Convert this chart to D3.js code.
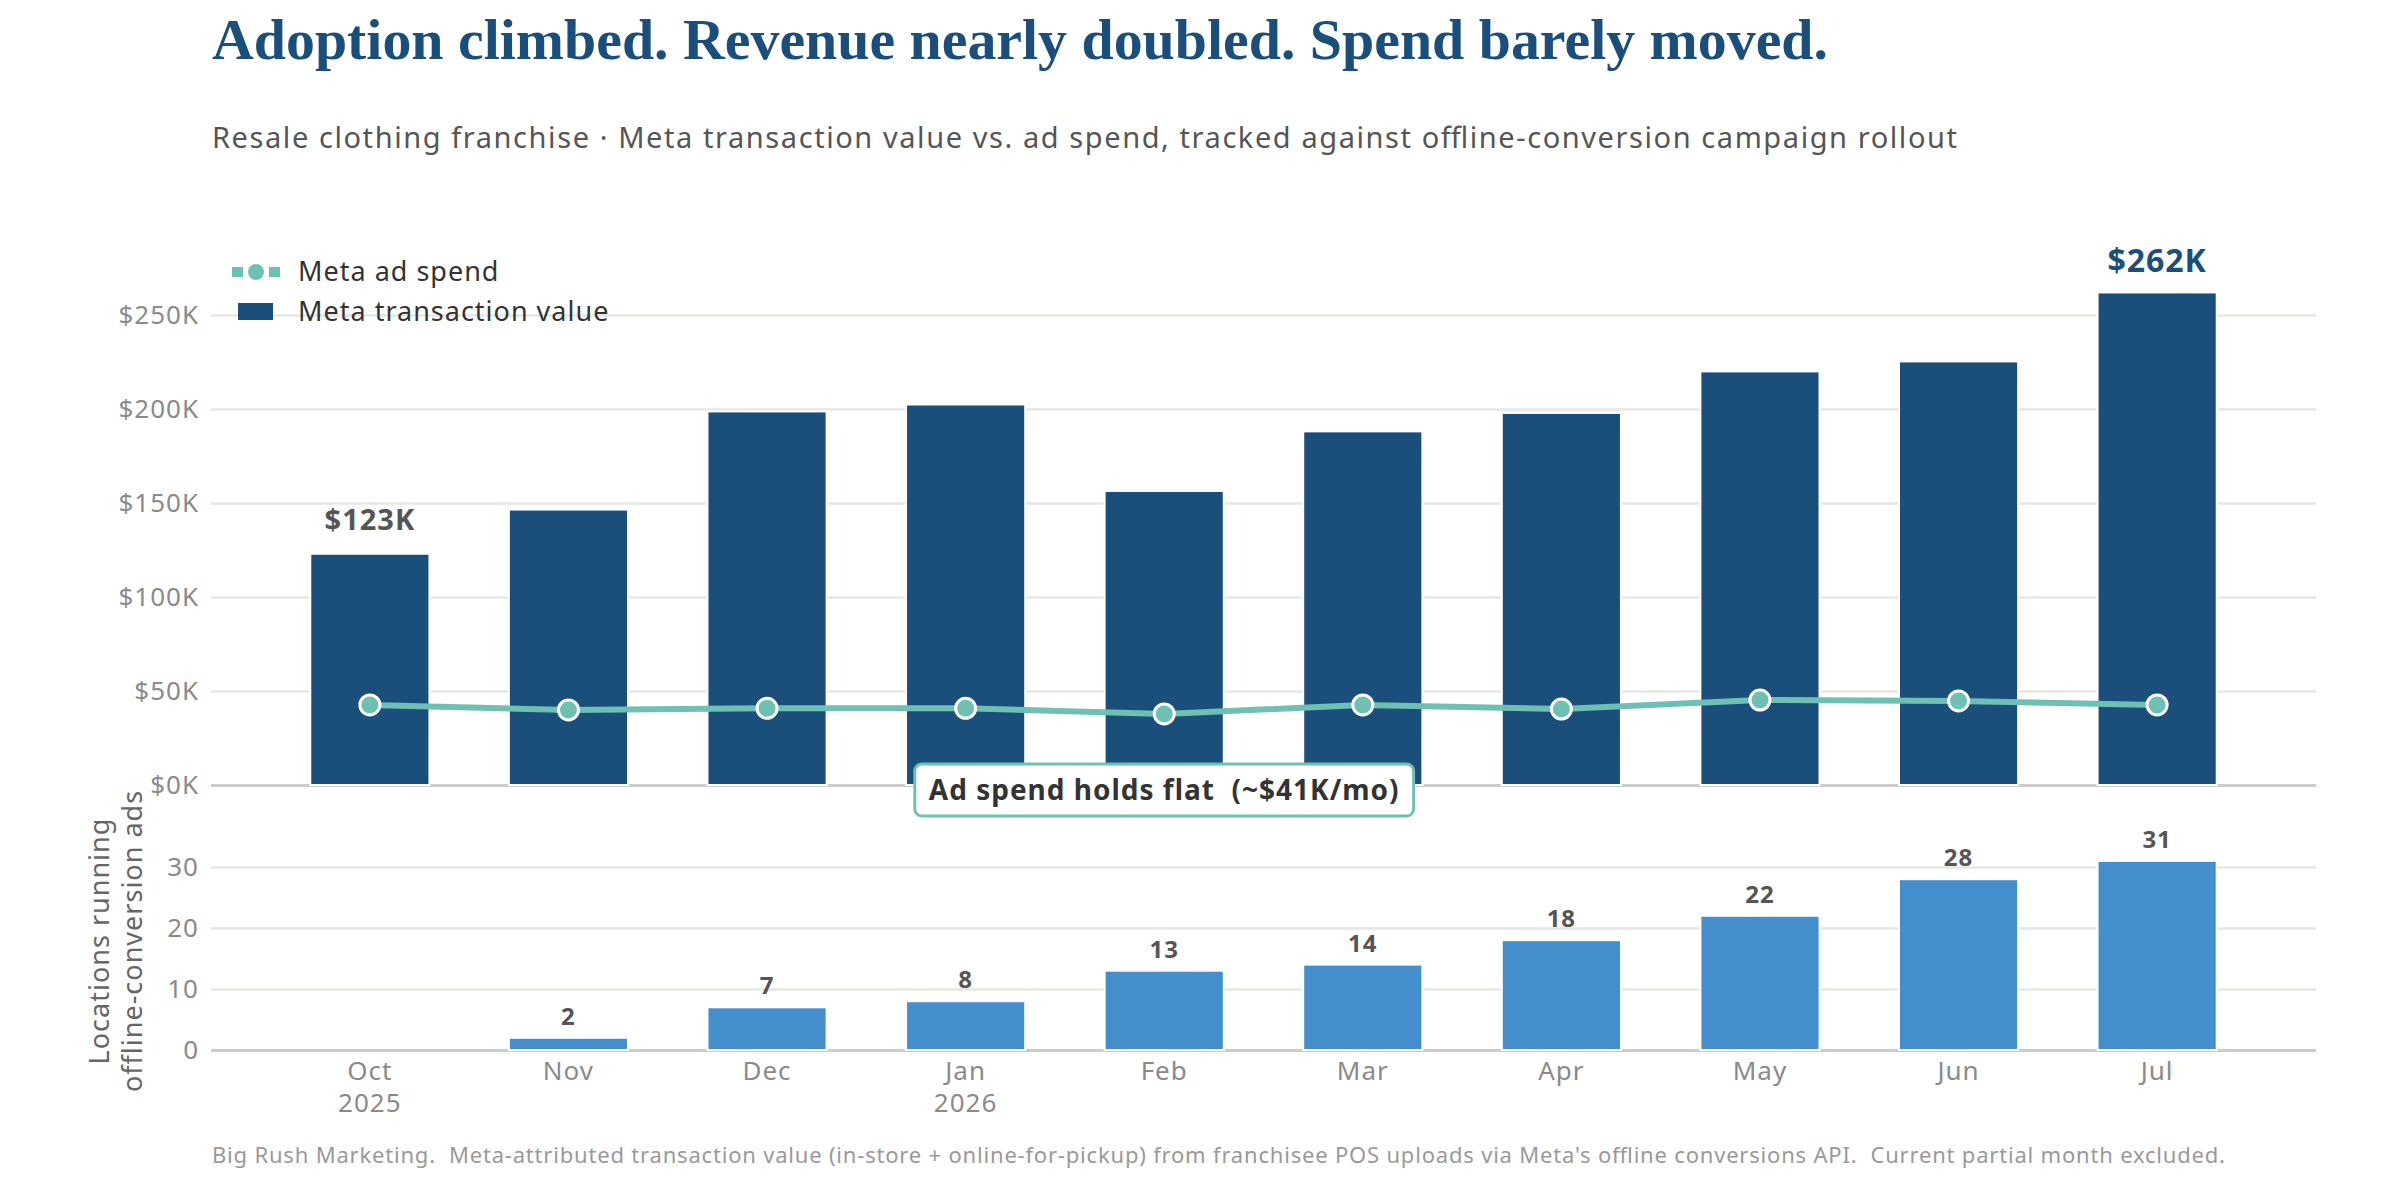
<!DOCTYPE html>
<html>
<head>
<meta charset="utf-8">
<script src="https://cdn.jsdelivr.net/npm/d3@7"></script>
<style>
  body { margin: 0; background: #fff; }
  text { font-family: "Noto Sans", sans-serif; letter-spacing: 1px; }
</style>
</head>
<body>
<div id="chart"></div>
<script>
// Chart data (values in $K where noted)
var months = ["Oct", "Nov", "Dec", "Jan", "Feb", "Mar", "Apr", "May", "Jun", "Jul"];
var years = ["2025", "", "", "2026", "", "", "", "", "", ""];
var transactionValue = [123, 146.5, 198.7, 202.4, 156.4, 188.1, 197.9, 220, 225.3, 262]; // $K
var adSpend = [42.6, 39.9, 40.8, 40.8, 37.8, 42.6, 40.4, 45.2, 44.7, 42.6]; // $K
var locations = [0, 2, 7, 8, 13, 14, 18, 22, 28, 31];
var valueTicks = [0, 50, 100, 150, 200, 250];
var locationTicks = [0, 10, 20, 30];
var labelledValues = { "Oct": "$123K", "Jul": "$262K" };

var navy = "#1b4f7b", teal = "#6ec0b2", lightBlue = "#448ecc";

var W = 2400, H = 1180;
var left = 211, right = 2316;

var svg = d3.select("#chart")
    .append("svg")
    .attr("width", W)
    .attr("height", H);

// Title + subtitle
svg.append("text")
    .attr("x", 212)
    .attr("y", 59)
    .attr("textLength", 1616)
    .attr("lengthAdjust", "spacingAndGlyphs")
    .style("font-family", "'Liberation Serif', serif")
    .style("font-weight", "bold")
    .style("font-size", "56px")
    .style("letter-spacing", "0px")
    .attr("fill", navy)
    .text("Adoption climbed. Revenue nearly doubled. Spend barely moved.");

svg.append("text")
    .attr("x", 212)
    .attr("y", 148)
    .attr("textLength", 1745)
    .attr("lengthAdjust", "spacing")
    .style("font-size", "29px")
    .style("letter-spacing", "0px")
    .attr("fill", "#555")
    .text("Resale clothing franchise \u00b7 Meta transaction value vs. ad spend, tracked against offline-conversion campaign rollout");

// Scales
var x = d3.scaleBand()
    .domain(months)
    .range([left, right])
    .paddingInner(0.4)
    .paddingOuter(0.5);

var yTop = d3.scaleLinear().domain([0, 250]).range([785, 315]);
var yBot = d3.scaleLinear().domain([0, 30]).range([1050, 867]);

function styleAxis(g) {
    g.select(".domain").remove();
    g.selectAll(".tick line")
        .attr("stroke", function(d) { return d === 0 ? "#cccccc" : "#e6e6e2"; })
        .attr("stroke-width", function(d) { return d === 0 ? 3 : 2.5; });
    g.selectAll(".tick text")
        .attr("fill", "#8a8a8a")
        .style("font-size", "26px")
        .style("font-family", "'Noto Sans', sans-serif");
}

// Upper panel gridlines / y axis
svg.append("g")
    .attr("transform", "translate(" + left + ",0)")
    .call(d3.axisLeft(yTop)
        .tickValues(valueTicks)
        .tickSize(-(right - left))
        .tickPadding(12)
        .tickFormat(function(d) { return "$" + d + "K"; }))
    .call(styleAxis);

// Lower panel gridlines / y axis
svg.append("g")
    .attr("transform", "translate(" + left + ",0)")
    .call(d3.axisLeft(yBot)
        .tickValues(locationTicks)
        .tickSize(-(right - left))
        .tickPadding(12))
    .call(styleAxis);

// Transaction value bars
svg.selectAll(".valueBar")
    .data(transactionValue)
    .enter()
    .append("rect")
    .attr("class", "valueBar")
    .attr("x", function(d, i) { return x(months[i]); })
    .attr("width", x.bandwidth())
    .attr("y", function(d) { return yTop(d); })
    .attr("height", function(d) { return yTop(0) - yTop(d); })
    .attr("fill", navy)
    .attr("stroke", "#fff")
    .attr("stroke-width", 2);

// Labels on first and last bars
svg.selectAll(".valueLabel")
    .data(months.filter(function(m) { return labelledValues[m]; }))
    .enter()
    .append("text")
    .attr("class", "valueLabel")
    .attr("x", function(m) { return x(m) + x.bandwidth() / 2; })
    .attr("y", function(m) { return yTop(transactionValue[months.indexOf(m)]) - (m === "Jul" ? 20 : 24); })
    .attr("text-anchor", "middle")
    .style("font-weight", "bold")
    .style("font-size", function(m) { return m === "Jul" ? "32px" : "29px"; })
    .attr("fill", function(m) { return m === "Jul" ? navy : "#555"; })
    .text(function(m) { return labelledValues[m]; });

// Ad spend line
var line = d3.line()
    .x(function(d, i) { return x(months[i]) + x.bandwidth() / 2; })
    .y(function(d) { return yTop(d); });

svg.append("path")
    .datum(adSpend)
    .attr("d", line)
    .attr("fill", "none")
    .attr("stroke", teal)
    .attr("stroke-width", 6)
    .attr("stroke-linejoin", "round");

svg.selectAll(".spendDot")
    .data(adSpend)
    .enter()
    .append("circle")
    .attr("class", "spendDot")
    .attr("cx", function(d, i) { return x(months[i]) + x.bandwidth() / 2; })
    .attr("cy", function(d) { return yTop(d); })
    .attr("r", 10)
    .attr("fill", teal)
    .attr("stroke", "#fff")
    .attr("stroke-width", 3);

// Locations bars
svg.selectAll(".locBar")
    .data(locations)
    .enter()
    .append("rect")
    .attr("class", "locBar")
    .attr("x", function(d, i) { return x(months[i]); })
    .attr("width", x.bandwidth())
    .attr("y", function(d) { return yBot(d); })
    .attr("height", function(d) { return yBot(0) - yBot(d); })
    .attr("fill", lightBlue)
    .attr("stroke", "#fff")
    .attr("stroke-width", 2);

svg.selectAll(".locLabel")
    .data(locations)
    .enter()
    .filter(function(d) { return d > 0; })
    .append("text")
    .attr("class", "locLabel")
    .attr("x", function(d) { return x(months[locations.indexOf(d)]) + x.bandwidth() / 2; })
    .attr("y", function(d) { return yBot(d) - 13; })
    .attr("text-anchor", "middle")
    .style("font-weight", "bold")
    .style("font-size", "24px")
    .attr("fill", "#555")
    .text(function(d) { return d; });

// X axis (month labels)
var xAxis = svg.append("g")
    .attr("transform", "translate(0," + yBot(0) + ")")
    .call(d3.axisBottom(x).tickSize(0).tickPadding(12));
xAxis.select(".domain").remove();
xAxis.selectAll(".tick text")
    .attr("fill", "#8a8a8a")
    .style("font-size", "26px")
    .style("font-family", "'Noto Sans', sans-serif")
    .each(function(d, i) {
        var t = d3.select(this);
        t.text(null);
        t.append("tspan").attr("x", 0).text(d);
        if (years[i]) t.append("tspan").attr("x", 0).attr("dy", "1.22em").text(years[i]);
    });

// Lower y-axis title
var yTitle = svg.append("text")
    .attr("transform", "translate(0,941) rotate(-90)")
    .attr("text-anchor", "middle")
    .style("font-size", "27px")
    .attr("fill", "#666");
yTitle.append("tspan").attr("x", 0).attr("y", 109).text("Locations running");
yTitle.append("tspan").attr("x", 0).attr("y", 142).text("offline-conversion ads");

// Annotation box
var ann = svg.append("g")
    .attr("transform", "translate(" + (x("Feb") + x.bandwidth() / 2) + "," + (yTop(0) + 5) + ")");
var annBox = ann.append("rect")
    .attr("fill", "#fff")
    .attr("stroke", teal)
    .attr("stroke-width", 3)
    .attr("rx", 7);
var annText = ann.append("text")
    .attr("text-anchor", "middle")
    .attr("dy", "0.35em")
    .style("font-weight", "bold")
    .style("font-size", "28px")
    .style("white-space", "pre")
    .attr("fill", "#333")
    .text("Ad spend holds flat  (~$41K/mo)");
var bb = annText.node().getBBox();
annBox.attr("x", -bb.width / 2 - 14)
    .attr("y", -26)
    .attr("width", bb.width + 28)
    .attr("height", 52);

// Legend
var legend = svg.append("g");
legend.append("line")
    .attr("x1", 232).attr("x2", 280)
    .attr("y1", 272).attr("y2", 272)
    .attr("stroke", teal)
    .attr("stroke-width", 10)
    .attr("stroke-dasharray", "11,26");
legend.append("circle")
    .attr("cx", 256).attr("cy", 272).attr("r", 8)
    .attr("fill", teal);
legend.append("rect")
    .attr("x", 238).attr("y", 303)
    .attr("width", 35).attr("height", 17)
    .attr("fill", navy);
legend.selectAll(".legendText")
    .data(["Meta ad spend", "Meta transaction value"])
    .enter()
    .append("text")
    .attr("class", "legendText")
    .attr("x", 298)
    .attr("y", function(d, i) { return 272 + i * 40; })
    .attr("dy", "0.35em")
    .style("font-size", "27px")
    .attr("fill", "#333")
    .text(function(d) { return d; });

// Footer
svg.append("text")
    .attr("x", 212)
    .attr("y", 1163)
    .attr("textLength", 2013)
    .attr("lengthAdjust", "spacing")
    .style("font-size", "22px")
    .style("letter-spacing", "0px")
    .style("white-space", "pre")
    .attr("fill", "#999")
    .text("Big Rush Marketing.  Meta-attributed transaction value (in-store + online-for-pickup) from franchisee POS uploads via Meta's offline conversions API.  Current partial month excluded.");
</script>
</body>
</html>
